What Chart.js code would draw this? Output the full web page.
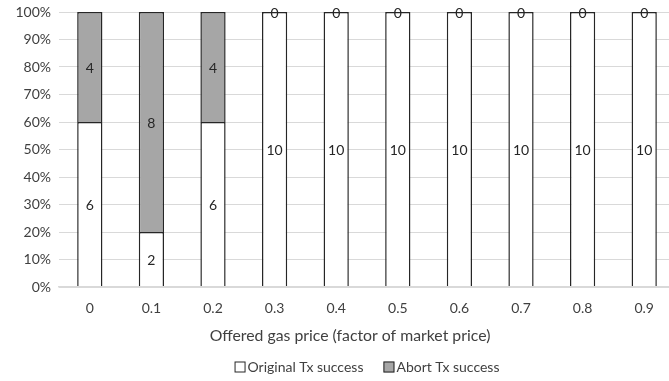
<!DOCTYPE html>
<html>
<head>
<meta charset="utf-8">
<script src="https://cdn.jsdelivr.net/npm/chart.js@4"></script>
<style>
  html, body { margin: 0; padding: 0; background: #fff; overflow: hidden; }
  #wrap { width: 669px; height: 381px; overflow: hidden; }
  #lienzo { width: 675px; height: 381px; }
</style>
</head>
<body>
<div id="wrap"><div id="lienzo"><canvas id="grafica"></canvas></div></div>
<script>
// offered gas price vs. which transaction got mined (10 runs each)
var precios = ['0', '0.1', '0.2', '0.3', '0.4', '0.5', '0.6', '0.7', '0.8', '0.9'];
var exitoOriginal = [6, 2, 6, 10, 10, 10, 10, 10, 10, 10];
var exitoAbort = [4, 8, 4, 0, 0, 0, 0, 0, 0, 0];
var ticksY = [0, 10, 20, 30, 40, 50, 60, 70, 80, 90, 100];
var tituloX = 'Offered gas price (factor of market price)';

var fuente = 'Lato, "Open Sans", sans-serif';
var colorTexto = '#404040';

function porcentaje(serie) {
  return serie.map(function (v, i) {
    var total = exitoOriginal[i] + exitoAbort[i];
    return total > 0 ? v / total * 100 : 0;
  });
}

// raw counts in the middle of each stacked segment
var etiquetas = {
  id: 'etiquetas',
  afterDatasetsDraw: function (chart) {
    var ctx = chart.ctx;
    ctx.save();
    ctx.font = '14px ' + fuente;
    ctx.fillStyle = '#262626';
    ctx.textAlign = 'center';
    ctx.textBaseline = 'middle';
    chart.data.datasets.forEach(function (ds, di) {
      var meta = chart.getDatasetMeta(di);
      meta.data.forEach(function (bar, i) {
        var y = (bar.y + bar.base) / 2;
        ctx.fillText(String(ds.conteos[i]), bar.x, y + 1);
      });
    });
    ctx.restore();
  }
};

// axis title + compact legend (square box right next to the text)
var pie = {
  id: 'pie',
  afterDraw: function (chart) {
    var ctx = chart.ctx;
    var area = chart.chartArea;
    ctx.save();
    ctx.fillStyle = colorTexto;
    ctx.textBaseline = 'middle';

    ctx.font = '15.8px ' + fuente;
    ctx.textAlign = 'center';
    ctx.fillText(tituloX, 350, area.bottom + 49);

    ctx.font = '14px ' + fuente;
    ctx.textAlign = 'left';
    var caja = 11, hueco = 2, separa = 20;
    var items = chart.data.datasets.map(function (ds) {
      return { ds: ds, w: caja + hueco + ctx.measureText(ds.label).width };
    });
    var total = items.reduce(function (s, it) { return s + it.w; }, 0) + separa * (items.length - 1);
    var x = (area.left + area.right) / 2 - total / 2;
    var y = area.bottom + 80;
    items.forEach(function (it) {
      ctx.fillStyle = it.ds.backgroundColor;
      ctx.fillRect(x, y - caja / 2, caja, caja);
      ctx.strokeStyle = '#262626';
      ctx.lineWidth = 1;
      ctx.strokeRect(x + 0.5, y - caja / 2 + 0.5, caja - 1, caja - 1);
      ctx.fillStyle = colorTexto;
      ctx.fillText(it.ds.label, x + caja + hueco, y);
      x += it.w + separa;
    });
    ctx.restore();
  }
};

var graficaexito = new Chart(document.getElementById('grafica'), {
  type: 'bar',
  data: {
    labels: precios,
    datasets: [{
      label: 'Original Tx success',
      data: porcentaje(exitoOriginal),
      conteos: exitoOriginal,
      backgroundColor: '#ffffff',
      borderColor: '#262626',
      borderWidth: { top: 1.5, left: 1.5, right: 1.5, bottom: 0 },
      borderSkipped: false,
      barPercentage: 0.41,
      categoryPercentage: 1
    }, {
      label: 'Abort Tx success',
      data: porcentaje(exitoAbort),
      conteos: exitoAbort,
      backgroundColor: '#a6a6a6',
      borderColor: '#262626',
      borderWidth: { top: 1.5, left: 1.5, right: 1.5, bottom: 0 },
      borderSkipped: false,
      barPercentage: 0.41,
      categoryPercentage: 1
    }]
  },
  options: {
    responsive: true,
    maintainAspectRatio: false,
    animation: false,
    layout: { padding: { top: 12, right: 0, left: 4, bottom: 54 } },
    scales: {
      x: {
        stacked: true,
        grid: { display: false, drawTicks: false },
        border: { color: '#d9d9d9', width: 1.5, z: 1 },
        ticks: { color: colorTexto, font: { family: fuente, size: 14 }, padding: 13 },
        afterFit: function (eje) {
          eje.height = 40;
          eje.paddingLeft = 0;
          eje.paddingRight = 0;
        }
      },
      y: {
        stacked: true,
        min: 0,
        max: 100,
        afterBuildTicks: function (eje) {
          eje.ticks = ticksY.map(function (v) { return { value: v }; });
        },
        afterFit: function (eje) {
          eje.width = 55;
          eje.paddingTop = 0;
          eje.paddingBottom = 0;
        },
        grid: { color: '#d9d9d9', drawTicks: false },
        border: { display: false },
        ticks: {
          color: colorTexto,
          font: { family: fuente, size: 14 },
          padding: 8,
          callback: function (v) { return v + '%'; }
        }
      }
    },
    plugins: {
      legend: { display: false },
      tooltip: { enabled: false }
    }
  },
  plugins: [etiquetas, pie]
});
</script>
</body>
</html>
